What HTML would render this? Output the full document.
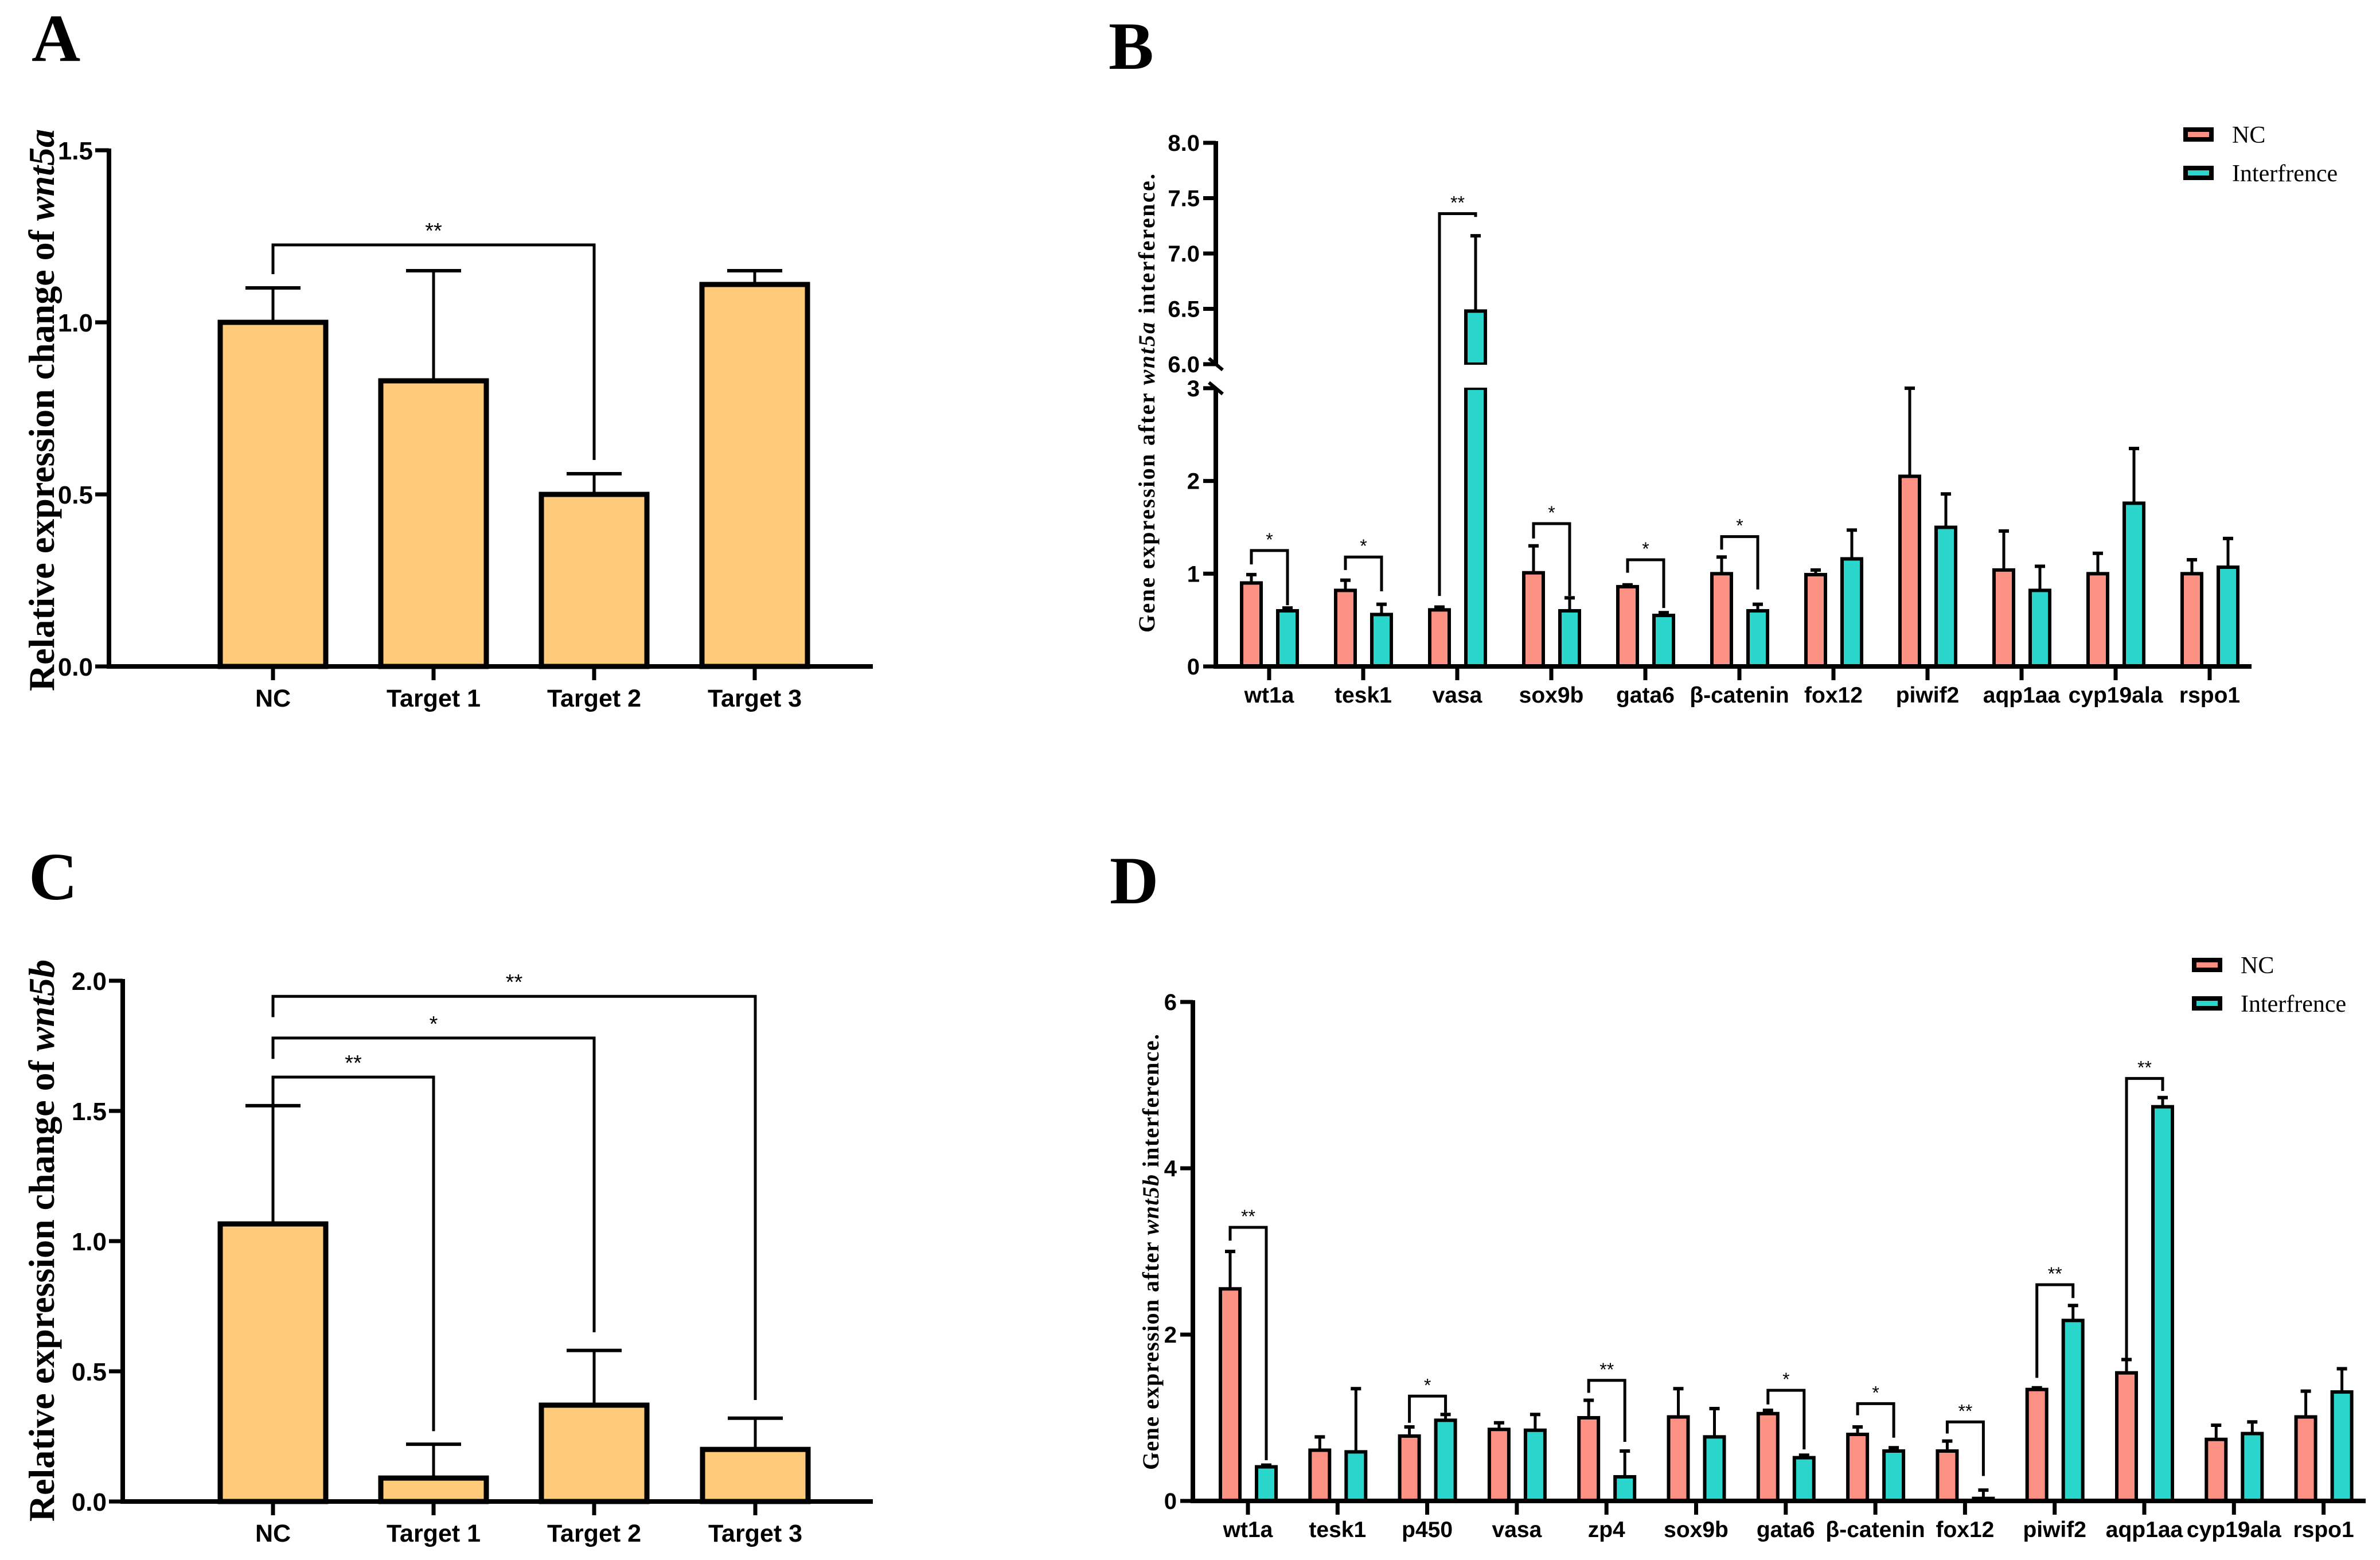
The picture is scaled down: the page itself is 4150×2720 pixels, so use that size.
<!DOCTYPE html>
<html><head><meta charset="utf-8">
<style>
html,body{margin:0;padding:0;background:#fff;}
svg{display:block;}
</style></head>
<body>
<svg id="fig" xmlns="http://www.w3.org/2000/svg" width="4150" height="2720" viewBox="0 0 4150 2720">
<rect x="0" y="0" width="4150" height="2720" fill="#fff"/>
<g font-family="Liberation Serif, serif" font-weight="bold" font-size="118">
<text x="55" y="106">A</text>
<text x="1933" y="120">B</text>
<text x="50" y="1568">C</text>
<text x="1935" y="1575">D</text>
</g>
<g font-family="Liberation Serif, serif" font-weight="bold" font-size="64" text-anchor="middle">
<text transform="translate(94,715) rotate(-90)">Relative expression change of <tspan font-style="italic">wnt5a</tspan></text>
<text transform="translate(94,2163) rotate(-90)">Relative expression change of <tspan font-style="italic">wnt5b</tspan></text>
</g>
<g font-family="Liberation Serif, serif" font-weight="bold" font-size="40" text-anchor="middle">
<text transform="translate(2013,703) rotate(-90)" textLength="800" lengthAdjust="spacing">Gene expression after <tspan font-style="italic">wnt5a</tspan> interference.</text>
<text transform="translate(2020,2183) rotate(-90)" textLength="760" lengthAdjust="spacing">Gene expression after <tspan font-style="italic">wnt5b</tspan> interference.</text>
</g>
<g id="plots"></g>
</svg>
<script>
// ---------- Panel A data ----------
const catsA = ['NC','Target 1','Target 2','Target 3'];
const valsA = [1.0, 0.83, 0.50, 1.11];
const errA  = [1.10, 1.15, 0.56, 1.15];
const ticksA = [0, 0.5, 1.0, 1.5];
const tickLabelsA = ['0.0','0.5','1.0','1.5'];
const bracketsA = [[0, 2, 1.225, 1.14, 0.60, '**']];
// ---------- Panel C data ----------
const catsC = ['NC','Target 1','Target 2','Target 3'];
const valsC = [1.066, 0.09, 0.37, 0.20];
const errC  = [1.52, 0.22, 0.58, 0.32];
const ticksC = [0, 0.5, 1.0, 1.5, 2.0];
const tickLabelsC = ['0.0','0.5','1.0','1.5','2.0'];
const bracketsC = [[0, 3, 1.94, 1.86, 0.39, '**'], [0, 2, 1.78, 1.70, 0.65, '*'], [0, 1, 1.63, 1.52, 0.27, '**']];
// ---------- Panel B data ----------
const genesB = ['wt1a','tesk1','vasa','sox9b','gata6','β-catenin','fox12','piwif2','aqp1aa','cyp19ala','rspo1'];
const ncB   = [0.90, 0.82, 0.61, 1.01, 0.86, 1.00, 0.99, 2.05, 1.04, 1.00, 1.00];
const ncErrB = [0.99, 0.93, 0.64, 1.30, 0.88, 1.18, 1.04, 3.00, 1.46, 1.22, 1.15];
const intB  = [0.60, 0.56, 6.48, 0.60, 0.55, 0.60, 1.16, 1.50, 0.82, 1.76, 1.07];
const intErrB = [0.63, 0.67, 7.16, 0.74, 0.58, 0.67, 1.47, 1.86, 1.08, 2.35, 1.38];
const ticksB = [0, 1, 2, 3, 6.0, 6.5, 7.0, 7.5, 8.0];
const tickLabelsB = ['0','1','2','3','6.0','6.5','7.0','7.5','8.0'];
const bracketsB = [[0,1.25,1.10,0.66,'*'],[1,1.18,1.04,0.81,'*'],[2,7.36,0.76,7.33,'**'],[3,1.54,1.38,0.76,'*'],[4,1.15,1.01,0.63,'*'],[5,1.40,1.26,0.83,'*']];
// ---------- Panel D data ----------
const genesD = ['wt1a','tesk1','p450','vasa','zp4','sox9b','gata6','β-catenin','fox12','piwif2','aqp1aa','cyp19ala','rspo1'];
const ncD   = [2.55, 0.61, 0.78, 0.86, 1.00, 1.01, 1.05, 0.80, 0.60, 1.34, 1.54, 0.74, 1.01];
const ncErrD = [3.00, 0.77, 0.89, 0.94, 1.21, 1.35, 1.09, 0.89, 0.72, 1.36, 1.70, 0.91, 1.32];
const intD  = [0.41, 0.59, 0.97, 0.85, 0.29, 0.77, 0.52, 0.60, 0.03, 2.17, 4.74, 0.81, 1.31];
const intErrD = [0.43, 1.35, 1.04, 1.04, 0.60, 1.11, 0.55, 0.64, 0.13, 2.35, 4.85, 0.95, 1.59];
const ticksD = [0, 2, 4, 6];
const tickLabelsD = ['0','2','4','6'];
const bracketsD = [[0,3.29,3.13,0.49,'**'],[2,1.26,0.94,1.06,'*'],[4,1.45,1.30,0.71,'**'],[6,1.33,1.16,0.62,'*'],[7,1.17,1.03,0.76,'*'],[8,0.95,0.81,0.30,'**'],[9,2.60,1.48,2.44,'**'],[10,5.08,1.70,4.93,'**']];

const NS = 'http://www.w3.org/2000/svg';
const root = document.getElementById('plots');
function el(tag, attrs, parent) {
  const e = document.createElementNS(NS, tag);
  for (const k in attrs) e.setAttribute(k, attrs[k]);
  (parent || root).appendChild(e);
  return e;
}
function line(x1,y1,x2,y2,w,parent){ return el('line',{x1:x1,y1:y1,x2:x2,y2:y2,stroke:'#000','stroke-width':w,'stroke-linecap':'butt'},parent); }
function txt(x,y,s,size,anchor,parent,font){
  const t = el('text',{x:x,y:y,'font-size':size,'text-anchor':anchor||'middle','font-family':font||'Liberation Sans, Arial, sans-serif','font-weight':'bold'},parent);
  t.textContent = s; return t;
}

function simplePanel(name, cats, vals, errs, ticks, labels, brackets, axX, yTop, y0, vMax, xEnd, centers) {
  const g = el('g', {});
  
  
  const y = v => y0 - (v / vMax) * (y0 - yTop);
  const bw = 192;
  cats.forEach((c, i) => {
    const cx = centers[i];
    const eb = line(cx, y(vals[i]), cx, y(errs[i]), 5, g);
    
    
    line(cx - 48, y(errs[i]), cx + 48, y(errs[i]), 6, g);
    const r = el('rect', {x: cx - bw/2 + 4, y: y(vals[i]), width: bw - 8, height: y0 - y(vals[i]), fill: '#FECB7B', stroke: '#000', 'stroke-width': 9}, g);
    
    
    line(cx, y0, cx, y0 + 24, 7, g);
    const t = txt(cx, y0 + 70, c, 43, 'middle', g);
    
    
  });
  const ax = line(axX, yTop - 3, axX, y0 + 4, 8, g);
  
  
  const xa = line(axX - 4, y0, xEnd, y0, 8, g);
  
  
  ticks.forEach((v, i) => {
    line(axX - 24, y(v), axX, y(v), 7, g);
    const t = txt(axX - 28, y(v) + 16, labels[i], 44, 'end', g);
    
    
  });
  brackets.forEach(b => {
    const [a, c2, yv, lb, rb, s] = b;
    const xa1 = centers[a], xb1 = centers[c2];
    const p = el('polyline', {points: `${xa1},${y(lb)} ${xa1},${y(yv)} ${xb1},${y(yv)} ${xb1},${y(rb)}`, fill: 'none', stroke: '#000', 'stroke-width': 5}, g);
    
    
    const t = txt((xa1 + xb1) / 2, y(yv) - 12, s, 38, 'middle', g, 'Liberation Sans, sans-serif');
    t.setAttribute('font-weight', 'normal');
    
    
  });
}
simplePanel('a', catsA, valsA, errA, ticksA, tickLabelsA, bracketsA, 190, 262, 1162, 1.5, 1522, [476, 756, 1036, 1316]);
simplePanel('c', catsC, valsC, errC, ticksC, tickLabelsC, bracketsC, 214, 1710, 2618, 2.0, 1522, [476, 756, 1036, 1317]);

function groupedPanel(name, genes, nc, ncErr, it, itErr, ticks, labels, brackets, o) {
  const g = el('g', {});
  
  
  const y = o.y;
  const cx = i => o.c0 + i * o.step;
  function bar(x, v, e, fill, nm) {
    const xc = x + 20;
    line(xc, y(v), xc, y(e), 5, g);
    line(xc - 9, y(e), xc + 9, y(e), 6, g);
    if (o.brk && v > o.brk[0]) {
      const r1 = el('rect', {x: x + 3, y: y(o.brk[0]), width: 34, height: o.y0 - y(o.brk[0]), fill: fill, stroke: '#000', 'stroke-width': 6}, g);
      
      
      const r2 = el('rect', {x: x + 3, y: y(v), width: 34, height: y(o.brk[1]) - y(v), fill: fill, stroke: '#000', 'stroke-width': 6}, g);
      
      
      el('rect', {x: x, y: y(o.brk[1]) + 1, width: 40, height: y(o.brk[0]) - y(o.brk[1]) - 2, fill: '#fff'}, g);
    } else {
      const r = el('rect', {x: x + 3, y: y(v), width: 34, height: o.y0 - y(v), fill: fill, stroke: '#000', 'stroke-width': 6}, g);
      
      
    }
  }
  genes.forEach((gn, i) => {
    const c = cx(i);
    bar(c - 51, nc[i], ncErr[i], '#FD9284', 'bar-' + name + '-nc-' + i);
    bar(c + 12, it[i], itErr[i], '#2AD6CC', 'bar-' + name + '-interference-' + i);
    line(c, o.y0, c, o.y0 + 24, 7, g);
    const t = txt(c, o.y0 + 63, gn, 39, 'middle', g);
    
    
  });
  if (o.brk) {
    const a1 = line(o.ax, y(ticks[ticks.length - 1]) - 3, o.ax, y(o.brk[1]), 8, g);
    
    
    const a2 = line(o.ax, y(o.brk[0]), o.ax, o.y0 + 4, 8, g);
    
    
    line(o.ax - 12, y(o.brk[1]) - 10, o.ax + 12, y(o.brk[1]) + 10, 6, g);
    line(o.ax - 12, y(o.brk[0]) - 10, o.ax + 12, y(o.brk[0]) + 10, 6, g);
  } else {
    const a = line(o.ax, y(ticks[ticks.length - 1]) - 3, o.ax, o.y0 + 4, 8, g);
    
    
  }
  const xa = line(o.ax - 4, o.y0, o.xEnd, o.y0, 8, g);
  
  
  ticks.forEach((v, i) => {
    line(o.ax - 22, y(v), o.ax, y(v), 7, g);
    const t = txt(o.ax - 28, y(v) + 14, labels[i], 40, 'end', g);
    
    
  });
  brackets.forEach(b => {
    const [gi, yv, lb, rb, s] = b;
    const xl = cx(gi) - 31, xr = cx(gi) + 32;
    const p = el('polyline', {points: `${xl},${y(lb)} ${xl},${y(yv)} ${xr},${y(yv)} ${xr},${y(rb)}`, fill: 'none', stroke: '#000', 'stroke-width': 5}, g);
    
    
    const t = txt((xl + xr) / 2, y(yv) - 8, s, 32, 'middle', g);
    t.setAttribute('font-weight', 'normal');
    
    
  });
  const lg = el('g', {}, g);
  
  
  [['NC', '#FD9284'], ['Interfrence', '#2AD6CC']].forEach((L, k) => {
    const yy = o.legY + k * 67;
    const r = el('rect', {x: o.legX + 4, y: yy + 4, width: 45, height: 17, fill: L[1], stroke: '#000', 'stroke-width': 8}, lg);
    
    
    const t = txt(o.legX + 85, yy + 27, L[0], 42, 'start', lg, 'Liberation Serif, serif');
    t.setAttribute('font-weight', 'normal');
    
    
  });
}
groupedPanel('b', genesB, ncB, ncErrB, intB, intErrB, ticksB, tickLabelsB, bracketsB, {
  ax: 2120, y0: 1162, c0: 2213, step: 164, xEnd: 3926, brk: [3, 6],
  y: v => v <= 3 ? 1162 - v * 161.7 : 635 - (v - 6) * 193,
  legX: 3807, legY: 222
});
groupedPanel('d', genesD, ncD, ncErrD, intD, intErrD, ticksD, tickLabelsD, bracketsD, {
  ax: 2080, y0: 2617, c0: 2176, step: 156.3, xEnd: 4125, brk: null,
  y: v => 2617 - v * 145,
  legX: 3822, legY: 1670
});
</script>
</body></html>
